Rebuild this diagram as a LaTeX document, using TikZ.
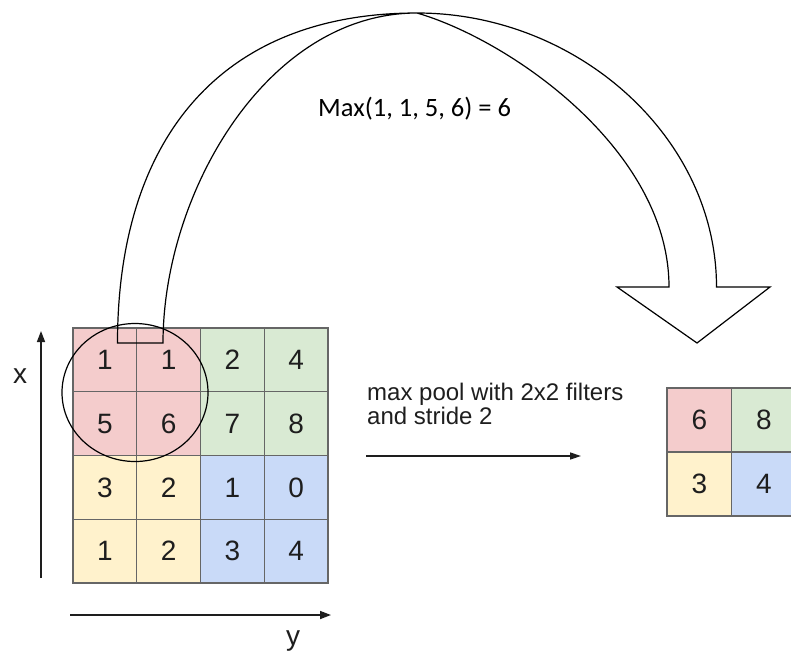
\documentclass[tikz,border=0pt]{standalone}
\usepackage{fontspec}
\setmainfont{Liberation Sans}
\newfontfamily\calib{Carlito}
\usetikzlibrary{arrows.meta,shapes.geometric}
\definecolor{cred}{HTML}{F4CCCC}
\definecolor{cgreen}{HTML}{D9EAD3}
\definecolor{cyellow}{HTML}{FFF2CC}
\definecolor{cblue}{HTML}{C9DAF8}
\definecolor{gridc}{HTML}{666666}
\definecolor{txt}{HTML}{1E1E1E}
\begin{document}
\begin{tikzpicture}[x=1pt,y=-1pt,
  cell/.style={draw=gridc, line width=1.2pt, minimum width=63.75pt, minimum height=63.75pt,
    inner sep=0pt, font=\fontsize{28}{28}\selectfont, text=txt},
  rc/.style={cell, fill=cred},
  gc/.style={cell, fill=cgreen},
  yc/.style={cell, fill=cyellow},
  bc/.style={cell, fill=cblue},
  axis/.style={draw=txt, line width=1.6pt, -{Triangle[length=11pt,width=8pt]}},
  label/.style={text=txt, font=\fontsize{28}{28}\selectfont, inner sep=0pt},
  caption/.style={text=txt, font=\fontsize{24}{24}\selectfont, inner sep=0pt, anchor=base west},
  bigarrow/.style={draw=black, line width=1.2pt, line join=miter}
]
\path[use as bounding box] (0,0) rectangle (791,657);
\clip (0,0) rectangle (791,657);

% input grid
\node[rc] (a11) at (104.9,359.9) {1};
\node[rc] (a12) at (168.6,359.9) {1};
\node[gc] (a13) at (232.4,359.9) {2};
\node[gc] (a14) at (296.1,359.9) {4};
\node[rc] (a21) at (104.9,423.6) {5};
\node[rc] (a22) at (168.6,423.6) {6};
\node[gc] (a23) at (232.4,423.6) {7};
\node[gc] (a24) at (296.1,423.6) {8};
\node[yc] (a31) at (104.9,487.4) {3};
\node[yc] (a32) at (168.6,487.4) {2};
\node[bc] (a33) at (232.4,487.4) {1};
\node[bc] (a34) at (296.1,487.4) {0};
\node[yc] (a41) at (104.9,551.1) {1};
\node[yc] (a42) at (168.6,551.1) {2};
\node[bc] (a43) at (232.4,551.1) {3};
\node[bc] (a44) at (296.1,551.1) {4};

% output grid
\node[rc, minimum width=64.5pt, minimum height=64pt] (b11) at (699.3,420) {6};
\node[gc, minimum width=64.5pt, minimum height=64pt] (b12) at (763.8,420) {8};
\node[yc, minimum width=64.5pt, minimum height=64pt] (b21) at (699.3,484) {3};
\node[bc, minimum width=64.5pt, minimum height=64pt] (b22) at (763.8,484) {4};

% pooling window
\node[draw=black, line width=1.2pt, ellipse, minimum width=146pt, minimum height=138pt, inner sep=0pt] (pool) at (135,392.5) {};

% curved block arrow
\draw[bigarrow] (117.5,343) .. controls (117.5,143) and (217,13) .. (417,13)
  .. controls (577,13) and (716.5,137) .. (716.5,287)
  -- (770,287) -- (697,343) -- (617,287) -- (669,287)
  .. controls (669,150) and (510,40) .. (417,13)
  .. controls (267,13) and (163,193) .. (163,343) -- cycle;

\node[anchor=base west, inner sep=0pt, font=\calib\fontsize{26.5}{26.5}\selectfont] (maxlabel) at (318,116) {Max(1, 1, 5, 6) = 6};

% axes
\coordinate (yfrom) at (41,578);
\coordinate (yto) at (41,331);
\coordinate (xfrom) at (70,615);
\coordinate (xto) at (331,615);
\draw[axis] (yfrom) -- (yto);
\draw[axis] (xfrom) -- (xto);
\node[label, anchor=base] (xlab) at (20,383) {x};
\node[label, anchor=base] (ylab) at (293,645) {y};

% middle arrow
\node[caption] (cap1) at (367,400) {max pool with 2x2 filters};
\node[caption] (cap2) at (367,424) {and stride 2};
\coordinate (mfrom) at (366,456);
\coordinate (mto) at (581,456);
\draw[draw=txt, line width=1.5pt, -{Triangle[length=11pt,width=7pt]}] (mfrom) -- (mto);
\end{tikzpicture}
\end{document}
